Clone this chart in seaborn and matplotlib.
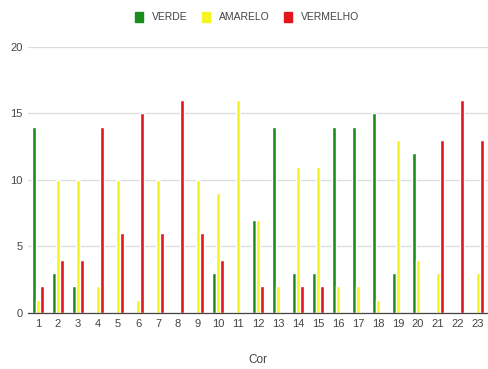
import matplotlib
matplotlib.use("Agg")
import matplotlib.pyplot as plt
from matplotlib.patches import Patch
import seaborn as sns
import pandas as pd

categorias = [str(i) for i in range(1, 24)]
verde = [14, 3, 2, 0, 0, 0, 0, 0, 0, 3, 0, 7, 14, 3, 3, 14, 14, 15, 3, 12, 0, 0, 0]
amarelo = [1, 10, 10, 2, 10, 1, 10, 0, 10, 9, 16, 7, 2, 11, 11, 2, 2, 1, 13, 4, 3, 0, 3]
vermelho = [2, 4, 4, 14, 6, 15, 6, 16, 6, 4, 0, 2, 0, 2, 2, 0, 0, 0, 0, 0, 13, 16, 13]
series = ["VERDE", "AMARELO", "VERMELHO"]
cores = ["#1c8c1c", "#f7f521", "#e3161c"]

df = pd.DataFrame({
    "Cor": categorias * 3,
    "valor": verde + amarelo + vermelho,
    "serie": [s for s in series for _ in categorias],
})

sns.set_theme(style="white")
plt.rcParams["font.family"] = ["Liberation Sans", "DejaVu Sans"]

fig = plt.figure(figsize=(4.88, 3.69), dpi=100)
ax = fig.add_axes([28 / 488, 1 - 313 / 369, 1 - 28 / 488, (313 - 47) / 369])

sns.barplot(data=df, x="Cor", y="valor", hue="serie", order=categorias,
            hue_order=series, palette=cores, width=0.6, gap=0.22,
            saturation=1, ax=ax, legend=False, errorbar=None)

ax.set_ylim(0, 20)
ax.set_xlim(-0.5, len(categorias) - 0.5)
ax.set_yticks([0, 5, 10, 15, 20])
ax.yaxis.grid(True, color="#dcdcdc", linewidth=0.9)
ax.set_axisbelow(True)
for s in ["top", "right", "left"]:
    ax.spines[s].set_visible(False)
ax.spines["bottom"].set_color("#444444")
ax.spines["bottom"].set_linewidth(0.9)
ax.tick_params(axis="both", length=0, labelsize=8, colors="#444444", pad=4)
ax.set_ylabel("")
ax.set_xlabel("Cor", fontsize=8.5, color="#444444", labelpad=18)

handles = [Patch(facecolor=c, edgecolor=c) for c in cores]
fig.legend(handles, series, loc="center", bbox_to_anchor=(0.506, 0.954), ncol=3,
           frameon=False, fontsize=7.5, handletextpad=0.85, columnspacing=1.4,
           handlelength=0.75, handleheight=1.15, labelcolor="#444444")

fig.savefig("out.png", dpi=100)
